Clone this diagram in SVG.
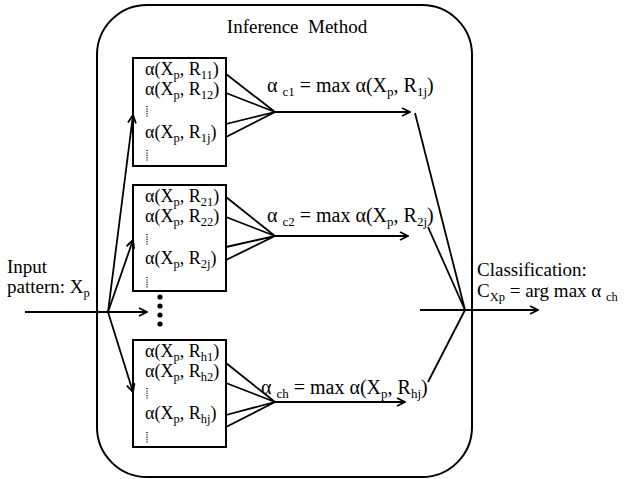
<svg xmlns="http://www.w3.org/2000/svg" width="625" height="479" viewBox="0 0 625 479">
<defs>
<marker id="ah" markerWidth="10" markerHeight="10" refX="9" refY="5" orient="auto" markerUnits="userSpaceOnUse">
<path d="M1,1 L9,5 L1,9" fill="none" stroke="#000" stroke-width="1.8"/>
</marker>
<style>
text{font-family:"Liberation Serif","Times New Roman",serif;fill:#000}
.t{font-size:19px}
.l{font-size:20px}
.b{font-size:18px}
.s{font-size:12.5px}
.sl{font-size:13px}
.ln{stroke:#000;stroke-width:1.8;fill:none}
.box{stroke:#000;stroke-width:2;fill:#fff}
.dots{stroke:#000;stroke-width:1.4;stroke-dasharray:1 1.4}
</style>
</defs>
<rect width="625" height="479" fill="#fff"/>
<g id="inference-method">
<rect x="97" y="5" width="375" height="472" rx="50" ry="50" fill="none" stroke="#000" stroke-width="2"/>
<text class="t" x="297" y="33" text-anchor="middle" xml:space="preserve">Inference  Method</text>
</g>
<g id="input">
<text class="t" x="7" y="273">Input</text>
<text class="t" x="7" y="293">pattern: X<tspan class="s" dy="4">p</tspan></text>
</g>
<g id="rules1">
<rect class="box" x="133" y="58" width="93" height="108"/>
<text class="b" x="145" y="75">α(X<tspan class="s" dy="4">p</tspan><tspan dy="-4">, R</tspan><tspan class="s" dy="4">11</tspan><tspan dy="-4">)</tspan></text>
<text class="b" x="145" y="95">α(X<tspan class="s" dy="4">p</tspan><tspan dy="-4">, R</tspan><tspan class="s" dy="4">12</tspan><tspan dy="-4">)</tspan></text>
<line class="dots" x1="147" y1="106" x2="147" y2="118"/>
<text class="b" x="145" y="138">α(X<tspan class="s" dy="4">p</tspan><tspan dy="-4">, R</tspan><tspan class="s" dy="4">1j</tspan><tspan dy="-4">)</tspan></text>
<line class="dots" x1="147" y1="150" x2="147" y2="162"/>
</g>
<g id="rules2">
<rect class="box" x="133" y="185" width="93" height="106"/>
<text class="b" x="145" y="202">α(X<tspan class="s" dy="4">p</tspan><tspan dy="-4">, R</tspan><tspan class="s" dy="4">21</tspan><tspan dy="-4">)</tspan></text>
<text class="b" x="145" y="222">α(X<tspan class="s" dy="4">p</tspan><tspan dy="-4">, R</tspan><tspan class="s" dy="4">22</tspan><tspan dy="-4">)</tspan></text>
<line class="dots" x1="147" y1="234" x2="147" y2="245"/>
<text class="b" x="145" y="264">α(X<tspan class="s" dy="4">p</tspan><tspan dy="-4">, R</tspan><tspan class="s" dy="4">2j</tspan><tspan dy="-4">)</tspan></text>
<line class="dots" x1="147" y1="277" x2="147" y2="288"/>
</g>
<g id="more">
<circle cx="160" cy="297" r="2.6"/>
<circle cx="160" cy="306" r="2.6"/>
<circle cx="160" cy="315" r="2.6"/>
<circle cx="160" cy="324" r="2.6"/>
</g>
<g id="rulesh">
<rect class="box" x="133" y="340" width="93" height="107"/>
<text class="b" x="145" y="357">α(X<tspan class="s" dy="4">p</tspan><tspan dy="-4">, R</tspan><tspan class="s" dy="4">h1</tspan><tspan dy="-4">)</tspan></text>
<text class="b" x="145" y="377">α(X<tspan class="s" dy="4">p</tspan><tspan dy="-4">, R</tspan><tspan class="s" dy="4">h2</tspan><tspan dy="-4">)</tspan></text>
<line class="dots" x1="147" y1="388" x2="147" y2="399"/>
<text class="b" x="145" y="419">α(X<tspan class="s" dy="4">p</tspan><tspan dy="-4">, R</tspan><tspan class="s" dy="4">hj</tspan><tspan dy="-4">)</tspan></text>
<line class="dots" x1="147" y1="432" x2="147" y2="443"/>
</g>
<g id="labels">
<text class="l" x="267" y="92">α <tspan class="sl" dy="4">c1</tspan><tspan dy="-4"> = max α(X</tspan><tspan class="sl" dy="4">p</tspan><tspan dy="-4">, R</tspan><tspan class="sl" dy="4">1j</tspan><tspan dy="-4">)</tspan></text>
<text class="l" x="267" y="222">α <tspan class="sl" dy="4">c2</tspan><tspan dy="-4"> = max α(X</tspan><tspan class="sl" dy="4">p</tspan><tspan dy="-4">, R</tspan><tspan class="sl" dy="4">2j</tspan><tspan dy="-4">)</tspan></text>
<text class="l" x="261" y="394">α <tspan class="sl" dy="4">ch</tspan><tspan dy="-4"> = max α(X</tspan><tspan class="sl" dy="4">p</tspan><tspan dy="-4">, R</tspan><tspan class="sl" dy="4">hj</tspan><tspan dy="-4">)</tspan></text>
</g>
<g id="classification">
<text class="t" x="477" y="276">Classification:</text>
<text class="t" x="477" y="297">C<tspan class="s" dy="4">Xp</tspan><tspan dy="-4"> = arg max α </tspan><tspan class="s" dy="4">ch</tspan></text>
</g>
<g id="connectors">
<line class="ln" x1="25" y1="312" x2="108" y2="312"/>
<line class="ln" x1="108" y1="312" x2="133" y2="115" marker-end="url(#ah)"/>
<line class="ln" x1="108" y1="312" x2="133" y2="240" marker-end="url(#ah)"/>
<line class="ln" x1="108" y1="312" x2="147" y2="312" marker-end="url(#ah)"/>
<line class="ln" x1="108" y1="312" x2="133" y2="392" marker-end="url(#ah)"/>
<polyline class="ln" points="226,74 275,112 226,93"/>
<polyline class="ln" points="226,124 275,112 226,137"/>
<line class="ln" x1="275" y1="112" x2="410" y2="112" marker-end="url(#ah)"/>
<polyline class="ln" points="226,197 275,236 226,217"/>
<polyline class="ln" points="226,247 275,236 226,260"/>
<line class="ln" x1="275" y1="236" x2="408" y2="236" marker-end="url(#ah)"/>
<polyline class="ln" points="226,363 275,402 226,383"/>
<polyline class="ln" points="226,415 275,402 226,427"/>
<line class="ln" x1="275" y1="402" x2="405" y2="402" marker-end="url(#ah)"/>
<line class="ln" x1="415" y1="113" x2="465" y2="310"/>
<line class="ln" x1="428" y1="227" x2="465" y2="310"/>
<line class="ln" x1="428" y1="382" x2="465" y2="310"/>
<line class="ln" x1="420" y1="310" x2="538" y2="310" marker-end="url(#ah)"/>
</g>
</svg>
